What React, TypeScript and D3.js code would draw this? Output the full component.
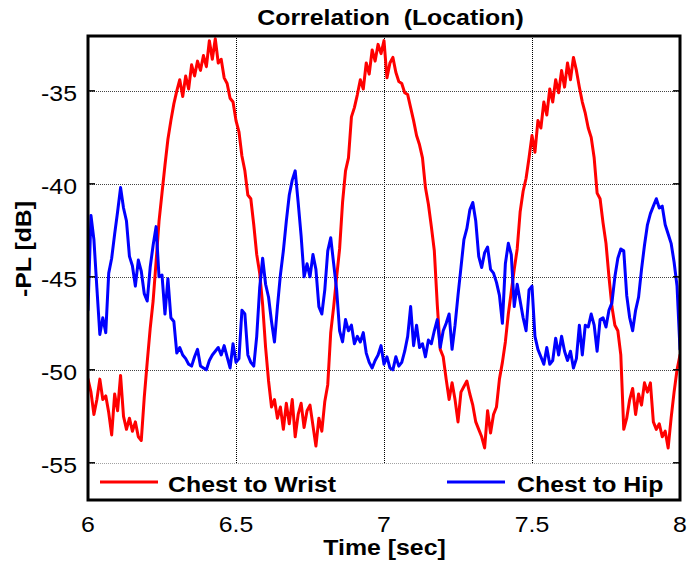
import React from "react";
import * as d3 from "d3";

const T0 = 6;
const DT = 0.01;

const wristValues = [
  -50.5, -51.2, -52.4, -51.6, -50.5, -51.6, -51.4, -52.3, -53.5, -51.3,
  -52.2, -50.3, -52.5, -53.2, -52.6, -53.3, -52.8, -53.6, -53.8, -51.5,
  -49.6, -47.8, -46.3, -44.2, -42.0, -40.5, -39.0, -37.6, -36.6, -35.7,
  -35.0, -34.4, -35.3, -34.2, -34.9, -33.6, -34.2, -33.4, -33.9, -33.1,
  -33.7, -32.3, -33.3, -32.2, -33.5, -33.3, -34.3, -34.6, -35.4, -35.6,
  -36.6, -37.2, -38.5, -39.3, -40.6, -40.8, -42.2, -43.8, -44.8, -46.5,
  -48.8, -50.6, -52.0, -51.6, -52.6, -52.0, -53.2, -51.8, -52.9, -51.6,
  -53.6, -52.4, -51.8, -53.1, -52.2, -51.9, -53.0, -54.1, -52.6, -53.3,
  -51.7, -50.8, -48.0, -46.6, -45.0, -43.5, -41.0, -39.3, -38.6, -36.4,
  -35.9, -35.2, -34.4, -34.9, -33.5, -34.1, -32.8, -33.4, -32.5, -33.0,
  -32.3, -34.3, -33.5, -33.2, -34.0, -34.5, -34.6, -35.1, -35.2, -35.9,
  -36.6, -37.4, -37.9, -38.6, -40.2, -41.1, -42.3, -43.6, -46.5, -48.9,
  -49.3, -50.5, -51.6, -50.7, -51.6, -52.8, -51.2, -50.9, -50.6, -51.3,
  -51.9, -52.8, -53.2, -53.6, -54.2, -52.2, -53.4, -52.4, -52.0, -50.5,
  -49.6, -48.5, -47.0, -45.8, -44.6, -43.5, -41.5, -40.4, -39.7, -38.6,
  -37.4, -38.3, -36.6, -37.0, -35.6, -36.3, -34.9, -35.6, -34.4, -35.1,
  -33.9, -34.8, -33.5, -34.4, -33.2, -33.9, -34.8, -35.6, -36.2, -37.0,
  -37.5, -38.6, -40.5, -40.8, -42.1, -43.2, -45.0, -46.6, -47.6, -47.9,
  -49.2, -53.2, -52.6, -51.6, -51.0, -52.4, -51.3, -51.9, -50.7, -51.2,
  -50.7, -52.8, -53.2, -52.9, -53.6, -53.3, -54.2, -52.6, -51.2, -50.0,
  -49.2,
];

const hipValues = [
  -46.8, -41.7, -43.0, -45.6, -48.1, -47.2, -48.0, -44.8, -44.0, -42.7,
  -41.5, -40.2, -41.3, -42.0, -43.9, -44.4, -45.5, -44.1, -44.7, -45.9,
  -46.3, -44.5, -43.3, -42.3, -45.0, -44.9, -47.0, -45.1, -47.2, -47.4,
  -49.1, -48.8, -49.2, -49.4, -49.7, -49.8, -49.3, -48.9, -49.8, -49.9,
  -50.0, -49.5, -49.2, -49.0, -48.8, -49.2, -48.7, -49.3, -49.9, -48.6,
  -49.6, -49.4, -46.8, -47.0, -49.2, -49.6, -49.8, -48.2, -45.6, -44.0,
  -45.4, -46.1, -47.4, -48.5, -46.6, -44.9, -43.6, -42.0, -40.6, -39.8,
  -39.3, -41.0, -42.8, -45.0, -44.3, -45.0, -43.8, -44.6, -46.6, -47.0,
  -45.7, -43.6, -42.9, -44.3, -45.7, -47.9, -48.5, -47.3, -47.9, -47.6,
  -48.6, -48.2, -48.5, -48.0, -49.1, -49.6, -49.9, -49.5, -49.2, -48.7,
  -49.7, -49.3, -49.9, -50.0, -49.3, -49.8, -49.6, -49.0, -48.2, -46.6,
  -48.7, -47.6, -48.8, -48.6, -49.3, -48.4, -48.6, -47.9, -47.3, -48.8,
  -47.9, -47.5, -47.0, -48.9, -47.6, -46.0, -44.5, -43.0, -42.4, -41.4,
  -41.0, -42.0, -43.9, -44.5, -43.7, -43.4, -44.6, -44.8, -45.3, -46.0,
  -47.5, -44.3, -43.2, -43.8, -46.6, -45.4, -46.3, -47.2, -47.9, -45.7,
  -45.5, -48.2, -48.9, -49.3, -49.7, -48.8, -49.7, -49.5, -48.3, -49.2,
  -48.2, -49.0, -49.5, -49.0, -49.9, -49.4, -47.6, -49.2, -47.6, -47.7,
  -47.0, -47.6, -49.0, -47.3, -47.2, -47.7, -46.8, -46.4, -45.0, -44.0,
  -43.5, -43.6, -46.0, -47.2, -47.9, -46.8, -46.1, -44.6, -43.3, -42.2,
  -41.6, -41.2, -40.8, -41.3, -41.2, -42.2, -42.7, -43.2, -44.2, -45.5,
  -48.9,
];

const xTicks = [6, 6.5, 7, 7.5, 8];
const xTickLabels = ["6", "6.5", "7", "7.5", "8"];
const yTicks = [-55, -50, -45, -40, -35];
const yTickLabels = ["-55", "-50", "-45", "-40", "-35"];
const seriesNames = ["Chest to Wrist", "Chest to Hip"];
const seriesColors = ["#ff0000", "#0000ff"];

const W = 690;
const H = 569;
const L = 88, R = 680, TOP = 36, BOT = 500;
const FONT = "Arial, 'Liberation Sans', Helvetica, sans-serif";
const SX = 1.13;

function SText(props: {
  x: number;
  y: number;
  size: number;
  bold?: boolean;
  anchor?: "start" | "middle" | "end";
  rotate?: number;
  children: React.ReactNode;
}) {
  const { x, y, size, bold, anchor = "start", rotate = 0, children } = props;
  return (
    <g transform={`translate(${x},${y}) rotate(${rotate}) scale(${SX},1)`}>
      <text
        x={0}
        y={0}
        fontSize={size}
        fontWeight={bold ? "bold" : "normal"}
        textAnchor={anchor}
        fill="#000"
        xmlSpace="preserve"
      >
        {children}
      </text>
    </g>
  );
}

export default function App() {
  const x = d3.scaleLinear().domain([6, 8]).range([L, R]);
  const y = d3.scaleLinear().domain([-57, -32.05]).range([BOT, TOP]);
  const legendTop = 463.5;

  const mk = (vals: number[]) =>
    d3
      .line<number>()
      .x((_, i) => x(T0 + i * DT))
      .y((v) => y(v))(vals) || "";

  const series = [wristValues, hipValues];

  return (
    <svg
      width={W}
      height={H}
      style={{ position: "absolute", left: 0, top: 0, background: "#fff" }}
      fontFamily={FONT}
    >
      <rect x={0} y={0} width={W} height={H} fill="#fff" />
      <defs>
        <clipPath id="plotclip">
          <rect x={L} y={TOP} width={R - L} height={BOT - TOP} />
        </clipPath>
      </defs>
      {/* grid */}
      {xTicks.slice(1, -1).map((t) => (
        <line
          key={"gx" + t}
          x1={Math.round(x(t)) + 0.5}
          x2={Math.round(x(t)) + 0.5}
          y1={TOP}
          y2={legendTop}
          stroke="#000"
          strokeWidth={1}
          strokeDasharray="1,1"
        />
      ))}
      {yTicks.map((t) => (
        <line
          key={"gy" + t}
          x1={L}
          x2={R}
          y1={Math.round(y(t)) + 0.5}
          y2={Math.round(y(t)) + 0.5}
          stroke="#444"
          strokeWidth={1}
          strokeDasharray="1,1"
        />
      ))}
      {/* data */}
      <g clipPath="url(#plotclip)">
        {series.map((s, i) => (
          <path
            key={i}
            d={mk(s)}
            fill="none"
            stroke={seriesColors[i]}
            strokeWidth={3}
            strokeLinejoin="round"
            strokeLinecap="round"
          />
        ))}
      </g>
      {/* legend */}
      <rect x={L} y={legendTop} width={R - L} height={BOT - legendTop} fill="#fff" />
      <line x1={100} x2={158} y1={482} y2={482} stroke={seriesColors[0]} strokeWidth={3} />
      <SText x={168} y={491.5} size={22} bold>
        {seriesNames[0]}
      </SText>
      <line x1={447} x2={505} y1={482} y2={482} stroke={seriesColors[1]} strokeWidth={3} />
      <SText x={517} y={491.5} size={22} bold>
        {seriesNames[1]}
      </SText>
      {/* ticks */}
      {yTicks.map((t) => (
        <g key={"ty" + t}>
          <line x1={L} x2={L + 7} y1={y(t)} y2={y(t)} stroke="#000" strokeWidth={1.5} />
          <line x1={R - 7} x2={R} y1={y(t)} y2={y(t)} stroke="#000" strokeWidth={1.5} />
        </g>
      ))}
      {/* frame */}
      <rect x={L} y={TOP} width={R - L} height={BOT - TOP} fill="none" stroke="#000" strokeWidth={3} />
      {/* tick labels */}
      {yTicks.map((t, i) => (
        <SText key={"ly" + t} x={77} y={y(t) + 10} size={22} anchor="end">
          {yTickLabels[i]}
        </SText>
      ))}
      {xTicks.map((t, i) => (
        <SText key={"lx" + t} x={x(t)} y={531.5} size={22} anchor="middle">
          {xTickLabels[i]}
        </SText>
      ))}
      <SText x={384.5} y={555} size={22} bold anchor="middle">
        Time [sec]
      </SText>
      <SText x={31} y={249} size={22} bold anchor="middle" rotate={-90}>
        -PL [dB]
      </SText>
      <SText x={390.5} y={25} size={22} bold anchor="middle">
        Correlation  (Location)
      </SText>
    </svg>
  );
}
